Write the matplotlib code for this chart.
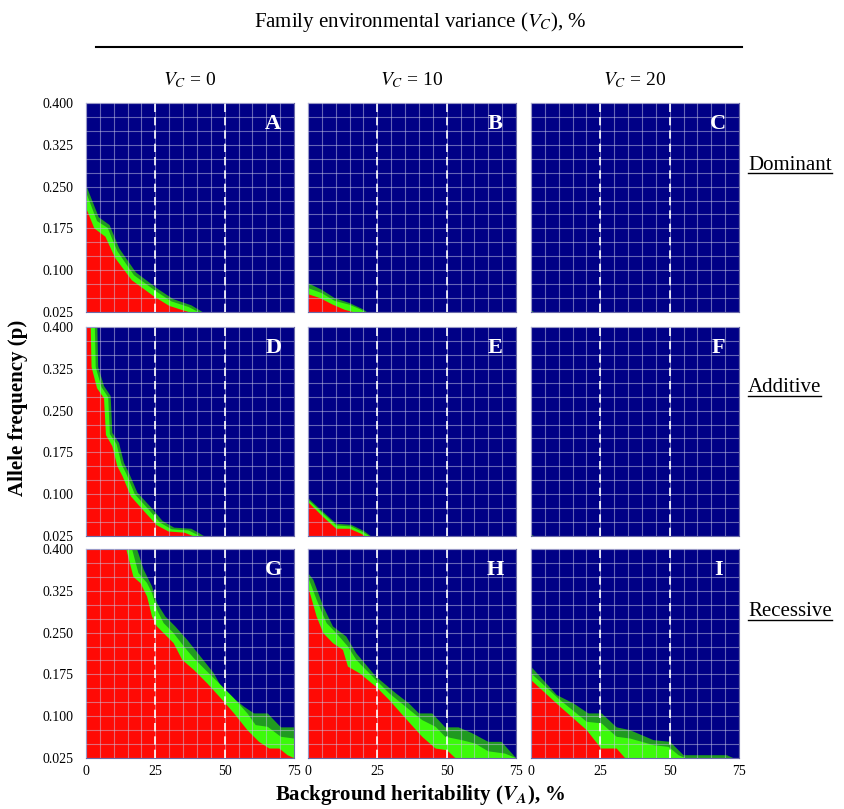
import matplotlib
matplotlib.use('Agg')
import matplotlib.pyplot as plt
from matplotlib.lines import Line2D
import numpy as np

plt.rcParams['font.family'] = 'Liberation Serif'
plt.rcParams['mathtext.fontset'] = 'stix'

# ---------------------------------------------------------------
# data: boundary curves, as (V_A %, p) points
# dg = top of dark green band, lg = top of light green band, red = top of red
# ---------------------------------------------------------------
A_dg = [(0, 0.253), (4.6, 0.195), (8.5, 0.181), (12.0, 0.139), (18.0, 0.096), (26, 0.066), (31.5, 0.048), (38, 0.037), (42, 0.025)]
A_lg = [(0, 0.240), (4.0, 0.188), (7.8, 0.176), (11.3, 0.134), (17.3, 0.091), (25.3, 0.062), (30.8, 0.044), (37, 0.034), (40.5, 0.025)]
A_red = [(0, 0.212), (3.0, 0.175), (7.0, 0.160), (10.5, 0.122), (16.5, 0.082), (24.5, 0.053), (30, 0.036), (35, 0.028), (37, 0.025)]

B_dg = [(0, 0.077), (4.9, 0.065), (9.6, 0.050), (15.0, 0.041), (19.8, 0.030), (21.2, 0.025)]
B_lg = [(0, 0.068), (4.9, 0.059), (9.6, 0.045), (15.0, 0.038), (19.2, 0.029), (20.4, 0.025)]
B_red = [(0, 0.057), (4.3, 0.050), (9.0, 0.038), (13.2, 0.029), (16.2, 0.025)]

C_dg = [(0, 0.028), (1.0, 0.025)]

D_dg = [(4.1, 0.4), (4.4, 0.328), (6.5, 0.294), (8.9, 0.276), (9.5, 0.210), (11.9, 0.192), (13.7, 0.156), (15.5, 0.138),
        (18.5, 0.103), (23.5, 0.076), (27.6, 0.052), (31.8, 0.040), (38.0, 0.038), (42.5, 0.025)]
D_lg = [(3.2, 0.4), (3.5, 0.328), (5.6, 0.292), (8.0, 0.274), (8.6, 0.208), (11.0, 0.190), (12.8, 0.154), (14.6, 0.136),
        (17.6, 0.100), (22.5, 0.073), (26.7, 0.049), (30.9, 0.037), (37.0, 0.035), (41.0, 0.025)]
D_red = [(1.7, 0.4), (2.0, 0.328), (4.0, 0.290), (6.5, 0.272), (7.2, 0.206), (9.5, 0.186), (11.3, 0.150), (13.2, 0.132),
         (16.2, 0.096), (21.2, 0.068), (25.6, 0.044), (29.8, 0.033), (35.5, 0.031), (38.5, 0.025)]

E_dg = [(0, 0.093), (5.5, 0.068), (10.2, 0.047), (15.6, 0.045), (20.2, 0.034), (22.6, 0.025)]
E_lg = [(0, 0.090), (5.5, 0.065), (10.2, 0.044), (15.6, 0.042), (19.8, 0.032), (22.0, 0.025)]
E_red = [(0, 0.086), (5.5, 0.059), (10.2, 0.038), (15.0, 0.038), (19.2, 0.029), (20.4, 0.025)]

F_dg = [(0, 0.028), (1.0, 0.025)]

G_dg = [(18.4, 0.4), (20.8, 0.363), (23.8, 0.333), (25.6, 0.303), (28.6, 0.279), (32.2, 0.261), (36.5, 0.237), (41.3, 0.207),
        (46.1, 0.177), (50.4, 0.138), (54.0, 0.129), (57.0, 0.117), (60.6, 0.105), (65.5, 0.105), (70.3, 0.080), (75, 0.080)]
G_lg = [(16.6, 0.4), (18.9, 0.357), (22.0, 0.339), (23.8, 0.321), (25.6, 0.291), (28.0, 0.267), (31.6, 0.249), (35.3, 0.225),
        (38.9, 0.204), (43.7, 0.180), (49.2, 0.153), (53.4, 0.132), (58.2, 0.105), (61.2, 0.084), (65.5, 0.081), (70.3, 0.063), (75, 0.060)]
G_red = [(14.5, 0.4), (17.1, 0.350), (19.6, 0.339), (22.0, 0.315), (23.8, 0.279), (25.6, 0.261), (28.0, 0.249), (31.6, 0.231),
         (34.7, 0.201), (38.9, 0.183), (43.7, 0.159), (49.2, 0.129), (53.4, 0.105), (58.2, 0.075), (62.4, 0.054), (66.1, 0.042),
         (69.7, 0.042), (72.7, 0.030), (75, 0.025)]

H_dg = [(0, 0.357), (1.9, 0.345), (5.5, 0.297), (9.0, 0.261), (13.8, 0.243), (17.4, 0.213), (24.5, 0.171), (31.7, 0.141),
        (36.4, 0.123), (40.0, 0.105), (44.8, 0.105), (49.5, 0.080), (54.3, 0.080), (59.0, 0.070), (65.0, 0.054), (69.8, 0.054), (75, 0.025)]
H_lg = [(0, 0.350), (3.1, 0.309), (6.7, 0.267), (10.2, 0.249), (14.4, 0.225), (17.4, 0.201), (24.5, 0.165), (29.3, 0.141),
        (35.2, 0.117), (41.2, 0.093), (46.0, 0.081), (49.5, 0.063), (55.5, 0.057), (60.2, 0.051), (65.0, 0.037), (71.0, 0.033), (75, 0.025)]
H_red = [(0, 0.333), (3.1, 0.279), (5.5, 0.249), (9.0, 0.231), (12.6, 0.219), (14.4, 0.189), (18.6, 0.177), (24.5, 0.153),
         (29.3, 0.129), (35.2, 0.096), (41.2, 0.063), (46.0, 0.042), (50.1, 0.039), (53.1, 0.025)]

I_dg = [(0, 0.189), (9.3, 0.138), (15.3, 0.123), (20.7, 0.105), (25.5, 0.105), (30.9, 0.080), (35.7, 0.075), (44.2, 0.057),
        (50.2, 0.054), (55.0, 0.030), (70.6, 0.030), (72.9, 0.025)]
I_lg = [(0, 0.177), (10.5, 0.129), (20.1, 0.090), (25.5, 0.087), (30.9, 0.063), (35.7, 0.060), (44.2, 0.048), (49.6, 0.045),
        (53.2, 0.030), (55.6, 0.025)]
I_red = [(0, 0.165), (10.5, 0.117), (20.1, 0.075), (25.3, 0.042), (30.9, 0.042), (33.9, 0.025)]

letters = ['A', 'B', 'C', 'D', 'E', 'F', 'G', 'H', 'I']
vc_values = [0, 10, 20]
row_labels = ['Dominant', 'Additive', 'Recessive']
x_ticks = [0, 25, 50, 75]
y_ticks = [0.025, 0.100, 0.175, 0.250, 0.325, 0.400]
dashed_at = [25, 50]

bands = {
    'A': (A_dg, A_lg, A_red), 'B': (B_dg, B_lg, B_red), 'C': (C_dg, [], []),
    'D': (D_dg, D_lg, D_red), 'E': (E_dg, E_lg, E_red), 'F': (F_dg, [], []),
    'G': (G_dg, G_lg, G_red), 'H': (H_dg, H_lg, H_red), 'I': (I_dg, I_lg, I_red),
}

BLUE = '#000086'
DKGREEN = '#209a20'
LTGREEN = '#3cfa0a'
RED = '#ff0a05'

W, H = 845, 809
fig = plt.figure(figsize=(W / 100, H / 100), dpi=100)

lefts = [86, 308, 531]
tops = [103, 327, 549]
pw, ph = 208, 209

def fill_below(ax, curve, color):
    if not curve:
        return
    pts = list(curve) + [(75, 0.025), (0, 0.025), (0, 0.4)]
    xs = [p[0] for p in pts]
    ys = [p[1] for p in pts]
    ax.fill(xs, ys, color=color, lw=0, zorder=1)

for i, letter in enumerate(letters):
    r, c = divmod(i, 3)
    ax = fig.add_axes([lefts[c] / W, 1 - (tops[r] + ph) / H, pw / W, ph / H])
    ax.set_facecolor(BLUE)
    ax.set_xlim(0, 75)
    ax.set_ylim(0.025, 0.4)

    dg, lg, red = bands[letter]
    fill_below(ax, dg, DKGREEN)
    fill_below(ax, lg, LTGREEN)
    fill_below(ax, red, RED)

    ax.set_xticks(x_ticks)
    ax.set_yticks(y_ticks)
    ax.set_xticks(np.arange(0, 76, 5), minor=True)
    ax.set_yticks(np.arange(0.025, 0.401, 0.025), minor=True)
    ax.set_axisbelow(False)
    ax.grid(True, which='both', color='#c8c8e6', lw=0.8, alpha=0.5, zorder=2)
    for xv in dashed_at:
        ax.axvline(xv, color='white', lw=1.2, ls=(0, (5, 3)), zorder=3)

    ax.tick_params(which='both', length=0, labelsize=10)
    ax.tick_params(axis='y', pad=9)
    ax.tick_params(axis='x', pad=5)
    if c == 0:
        ax.set_yticklabels(['%.3f' % v for v in y_ticks])
    else:
        ax.set_yticklabels([])
    if r == 2:
        ax.set_xticklabels([str(v) for v in x_ticks])
    else:
        ax.set_xticklabels([])
    for sp in ax.spines.values():
        sp.set_color('#6a6aa8')
        sp.set_linewidth(0.8)

    ax.text(0.9, 0.9, letter, transform=ax.transAxes, color='white', fontsize=16,
            fontweight='bold', ha='center', va='center', zorder=5)

# column headers and title
fig.text(420 / W, 1 - 22 / H, r'Family environmental variance ($V_C$), %', ha='center', va='center', fontsize=15)
fig.add_artist(Line2D([96 / W, 742 / W], [1 - 47 / H, 1 - 47 / H], color='black', lw=1.5))
for c, v in enumerate(vc_values):
    fig.text((lefts[c] + pw / 2) / W, 1 - 80 / H, r'$V_C$ = %d' % v, ha='center', va='center', fontsize=14)

# row labels, underlined
row_y = [165, 388, 612]
row_texts = []
for lab, yy in zip(row_labels, row_y):
    row_texts.append(fig.text(748 / W, 1 - yy / H, lab, ha='left', va='center', fontsize=15))

fig.text(18 / W, 1 - 408 / H, 'Allele frequency (p)', rotation=90, ha='center', va='center',
         fontsize=15, fontweight='bold')
fig.text(420 / W, 1 - 795 / H, r'Background heritability ($\mathbfit{V_A}$), %', ha='center', va='center',
         fontsize=15, fontweight='bold')

fig.canvas.draw()
inv = fig.transFigure.inverted()
for t in row_texts:
    bb = t.get_window_extent()
    (x0, y0), (x1, _) = inv.transform([(bb.x0, bb.y0 + 2), (bb.x1, bb.y0 + 2)])
    fig.add_artist(Line2D([x0, x1], [y0, y0], color='black', lw=1))

fig.savefig('out.png', dpi=100)
